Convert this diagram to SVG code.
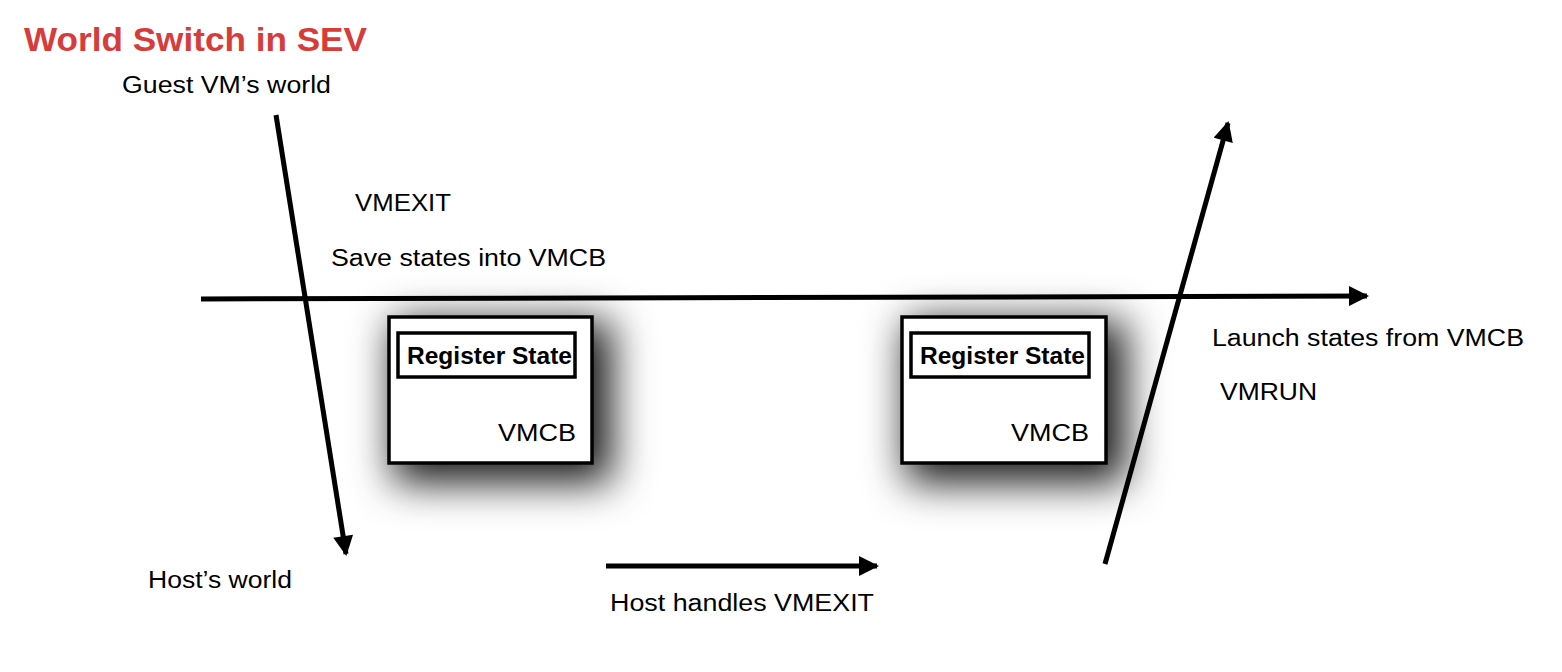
<svg xmlns="http://www.w3.org/2000/svg" width="1562" height="672" viewBox="0 0 1562 672">
<style>
text{font-family:"Liberation Sans",Arial,sans-serif;fill:#000}
.lbl{font-size:23px}
.title{font-size:34px;font-weight:bold;fill:#d63d3a}
.rs{font-size:23px;font-weight:bold}
.ln{stroke:#000;stroke-width:5;fill:none}
.box{fill:#fff;stroke:#000;stroke-width:3.5}
.ibox{fill:none;stroke:#000;stroke-width:3.5}
</style>
<defs>
<marker id="ah" viewBox="0 0 10 10" refX="9" refY="5" markerWidth="4.2" markerHeight="4" orient="auto" markerUnits="strokeWidth">
<path d="M0,0 L10,5 L0,10 Z" fill="#000"/>
</marker>
<filter id="sh" x="-60%" y="-60%" width="220%" height="220%">
<feMorphology in="SourceAlpha" operator="dilate" radius="6" result="d"/>
<feGaussianBlur in="d" stdDeviation="20" result="b"/>
<feOffset in="b" dx="12" dy="12" result="o"/>
<feColorMatrix in="o" type="matrix" values="0 0 0 0 0  0 0 0 0 0  0 0 0 0 0  0 0 0 0.9 0" result="s"/>
<feMerge><feMergeNode in="s"/><feMergeNode in="SourceGraphic"/></feMerge>
</filter>
</defs>
<text class="title" x="24" y="51" textLength="343" lengthAdjust="spacingAndGlyphs">World Switch in SEV</text>
<text class="lbl" x="122" y="93" textLength="209" lengthAdjust="spacingAndGlyphs">Guest VM’s world</text>
<text class="lbl" x="355" y="211" textLength="96" lengthAdjust="spacingAndGlyphs">VMEXIT</text>
<text class="lbl" x="331" y="266" textLength="275" lengthAdjust="spacingAndGlyphs">Save states into VMCB</text>
<text class="lbl" x="148" y="588" textLength="144" lengthAdjust="spacingAndGlyphs">Host’s world</text>
<text class="lbl" x="610" y="611" textLength="264" lengthAdjust="spacingAndGlyphs">Host handles VMEXIT</text>
<text class="lbl" x="1212" y="346" textLength="312" lengthAdjust="spacingAndGlyphs">Launch states from VMCB</text>
<text class="lbl" x="1220" y="400" textLength="97" lengthAdjust="spacingAndGlyphs">VMRUN</text>
<g id="vmcb1">
<rect class="box" x="389" y="317" width="203" height="146" filter="url(#sh)"/>
<rect class="ibox" x="398" y="333" width="177" height="44"/>
<text class="rs" x="407" y="364" textLength="165" lengthAdjust="spacingAndGlyphs">Register State</text>
<text class="lbl" x="576" y="441" text-anchor="end" textLength="78" lengthAdjust="spacingAndGlyphs">VMCB</text>
</g>
<g id="vmcb2">
<rect class="box" x="902" y="317" width="204" height="146" filter="url(#sh)"/>
<rect class="ibox" x="911" y="333" width="178" height="44"/>
<text class="rs" x="920" y="364" textLength="165" lengthAdjust="spacingAndGlyphs">Register State</text>
<text class="lbl" x="1089" y="441" text-anchor="end" textLength="78" lengthAdjust="spacingAndGlyphs">VMCB</text>
</g>
<g id="connectors">
<line class="ln" x1="201" y1="299" x2="1367" y2="296" marker-end="url(#ah)"/>
<line class="ln" x1="276" y1="115" x2="346" y2="554" marker-end="url(#ah)"/>
<line class="ln" x1="1105" y1="564" x2="1228" y2="123" marker-end="url(#ah)"/>
<line class="ln" x1="606" y1="566" x2="877" y2="566" marker-end="url(#ah)"/>
</g>
</svg>
